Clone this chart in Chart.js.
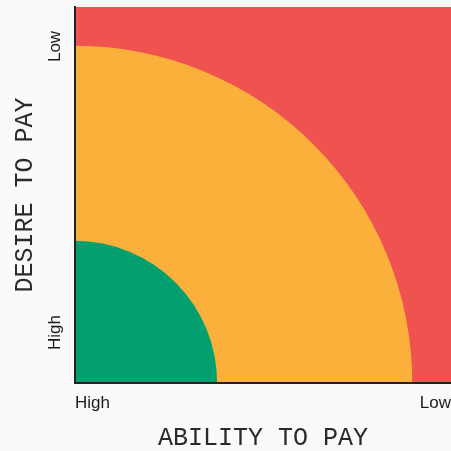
<!DOCTYPE html>
<html>
<head>
<meta charset="utf-8">
<script src="https://cdn.jsdelivr.net/npm/chart.js@4/dist/chart.umd.min.js"></script>
<style>
  html, body { margin: 0; padding: 0; background: #fafafa; }
  #wrap { width: 451px; height: 451px; position: relative; }
</style>
</head>
<body>
<div id="wrap"><canvas id="c"></canvas></div>
<script>
// ---- data ----
const xTitle = 'ABILITY TO PAY';
const yTitle = 'DESIRE TO PAY';
const xTickLabels = ['High', 'Low'];
const xTickValues = [0, 1];
const yTickLabels = ['High', 'Low'];
const yTickValues = [0.134, 0.895];
const zoneNames = ['Low', 'Medium', 'High'];
const zoneRadius = [null, 0.897, 0.378]; // null = whole plot

// ---- styles ----
const zoneColors = ['#ef5350', '#fbb03b', '#03a06f'];
const monoFont = "'Courier New', 'Nimbus Mono PS', 'FreeMono', 'Liberation Mono', monospace";
const sansFont = "'Liberation Sans', Arial, Helvetica, sans-serif";

const zonePlugin = {
  id: 'zones',
  beforeDraw(chart) {
    const { ctx, chartArea: a, scales: { x, y } } = chart;
    ctx.save();
    ctx.beginPath();
    ctx.rect(a.left, a.top, a.right - a.left, a.bottom - a.top);
    ctx.clip();
    const cx = x.getPixelForValue(0);
    const cy = y.getPixelForValue(0);
    zoneRadius.forEach((r, i) => {
      ctx.fillStyle = zoneColors[i];
      if (r === null) {
        ctx.fillRect(a.left, a.top, a.right - a.left, a.bottom - a.top);
        return;
      }
      const rx = x.getPixelForValue(r) - cx;
      const ry = cy - y.getPixelForValue(r);
      ctx.beginPath();
      ctx.moveTo(cx, cy);
      ctx.ellipse(cx, cy, rx, ry, 0, -Math.PI / 2, 0);
      ctx.closePath();
      ctx.fill();
    });
    ctx.restore();
  }
};

new Chart(document.getElementById('c'), {
  type: 'scatter',
  data: {
    datasets: zoneNames.map((n) => ({ label: n, data: [] }))
  },
  options: {
    responsive: true,
    maintainAspectRatio: false,
    animation: false,
    layout: { padding: { top: 7, right: 0, left: 0, bottom: 0 } },
    plugins: { legend: { display: false }, tooltip: { enabled: false } },
    scales: {
      x: {
        type: 'linear', min: 0, max: 1,
        grid: { display: false, drawTicks: false },
        border: { display: true, color: '#222', width: 2 },
        afterBuildTicks: (s) => { s.ticks = xTickValues.map(v => ({ value: v })); },
        afterFit: (s) => { s.height = 68; s.paddingLeft = 0; s.paddingRight = 0; },
        ticks: {
          autoSkip: false, maxRotation: 0, align: 'inner', padding: 10,
          color: '#1a1a1a', font: { family: sansFont, size: 17 },
          callback: (v, i) => xTickLabels[i]
        },
        title: {
          display: true, text: xTitle, color: '#2a2a2a',
          font: { family: monoFont, size: 25 }, padding: { top: 0, bottom: -2 }
        }
      },
      y: {
        type: 'linear', min: 0, max: 1,
        grid: { display: false, drawTicks: false },
        border: { display: true, color: '#222', width: 2 },
        afterBuildTicks: (s) => { s.ticks = yTickValues.map(v => ({ value: v })); },
        afterFit: (s) => { s.width = 75; s.paddingTop = 0; s.paddingBottom = 0; },
        ticks: {
          autoSkip: false, minRotation: 90, maxRotation: 90, crossAlign: 'center', padding: 2,
          color: '#1a1a1a', font: { family: sansFont, size: 17 },
          callback: (v, i) => yTickLabels[i]
        },
        title: {
          display: true, text: yTitle, color: '#2a2a2a',
          font: { family: monoFont, size: 25 }, padding: { top: 10, bottom: 0 }
        }
      }
    }
  },
  plugins: [zonePlugin]
});
</script>
</body>
</html>
